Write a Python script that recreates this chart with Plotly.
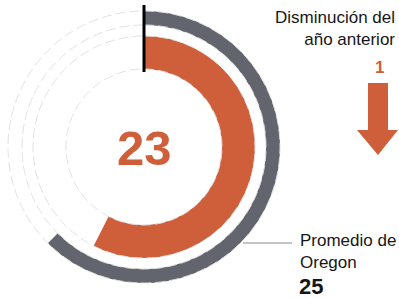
import numpy as np
import plotly.graph_objects as go

# ---- data ----
scale_max = 40
current_value = 23          # orange ring
oregon_avg = 25             # gray ring
change_prev_year = 1
labels_change = "Disminución del<br>año anterior"
labels_avg = "Promedio de<br>Oregon"

ORANGE = "#cf5e3a"
GRAY = "#62656d"
TRACK = "#e0e0e0"
TXT = "#161616"

W, H = 399, 298
cx, cy = 144, 147          # pixel centre of the gauge
R_AX = 143                 # radial axis range == pixel radius


def px(x):
    return x / W


def py(y):
    return 1 - y / H


fig = go.Figure()

# faint track circles
ring_orange = (78, 111)
ring_gray = (122, 136)
th = np.linspace(0, 360, 361)
for r in [ring_orange[0], ring_orange[1], ring_gray[0], ring_gray[1]]:
    fig.add_trace(go.Scatterpolar(r=[r] * len(th), theta=th, mode="lines",
                                  line=dict(color=TRACK, width=1, dash="10px,4px"),
                                  hoverinfo="skip", showlegend=False))

# bars
for val, (r0, r1), col in [(oregon_avg, ring_gray, GRAY),
                           (current_value, ring_orange, ORANGE)]:
    ang = val / scale_max * 360
    fig.add_trace(go.Barpolar(r=[r1 - r0], base=[r0], theta=[ang / 2], width=[ang],
                              marker=dict(color=col, line=dict(width=0)),
                              showlegend=False, hoverinfo="skip"))

# start marker
fig.add_trace(go.Scatterpolar(r=[75, 142], theta=[0, 0], mode="lines",
                              line=dict(color="black", width=3),
                              showlegend=False, hoverinfo="skip"))

fig.update_layout(
    width=W, height=H, margin=dict(l=0, r=0, t=0, b=0),
    paper_bgcolor="white", plot_bgcolor="white",
    polar=dict(
        domain=dict(x=[px(cx - R_AX), px(cx + R_AX)],
                    y=[1 - (cy + R_AX) / H, 1 - (cy - R_AX) / H]),
        bgcolor="white",
        radialaxis=dict(range=[0, R_AX], visible=False),
        angularaxis=dict(visible=False, direction="clockwise", rotation=90),
        bargap=0,
    ),
    font=dict(family="Liberation Sans, Arial, sans-serif", color=TXT),
)

ann = []
ann.append(dict(x=px(cx), y=py(148), text="<b>%d</b>" % current_value, showarrow=False,
                font=dict(size=49, color=ORANGE), xanchor="center", yanchor="middle"))
ann.append(dict(x=px(397), y=py(6), text=labels_change, showarrow=False,
                font=dict(size=17, color=TXT), xanchor="right", yanchor="top",
                align="right"))
ann.append(dict(x=px(379), y=py(67), text="<b>%d</b>" % change_prev_year, showarrow=False,
                font=dict(size=17, color=ORANGE), xanchor="center", yanchor="middle"))
ann.append(dict(x=px(298), y=py(229), text=labels_avg, showarrow=False,
                font=dict(size=17, color=TXT), xanchor="left", yanchor="top",
                align="left"))
ann.append(dict(x=px(297), y=py(286), text="<b>%d</b>" % oregon_avg, showarrow=False,
                font=dict(size=22, color=TXT), xanchor="left", yanchor="middle"))
fig.update_layout(annotations=ann)

# arrow (decoration)
pts = [(368, 83), (388, 83), (388, 130), (398, 130), (378, 155), (357, 130), (368, 130)]
path = "M " + " L ".join("%f %f" % (px(x), py(y)) for x, y in pts) + " Z"
fig.add_shape(type="path", path=path, xref="paper", yref="paper",
              fillcolor=ORANGE, line=dict(width=0))
# connector line for Oregon average
fig.add_shape(type="line", xref="paper", yref="paper", x0=px(243), x1=px(292),
              y0=py(243), y1=py(243), line=dict(color="#8a8a8a", width=1))

fig.write_html("out.html", config={"displayModeBar": False},
               post_script="document.body.style.margin='0';document.body.style.padding='0';"
                           "document.body.style.overflow='hidden';")
